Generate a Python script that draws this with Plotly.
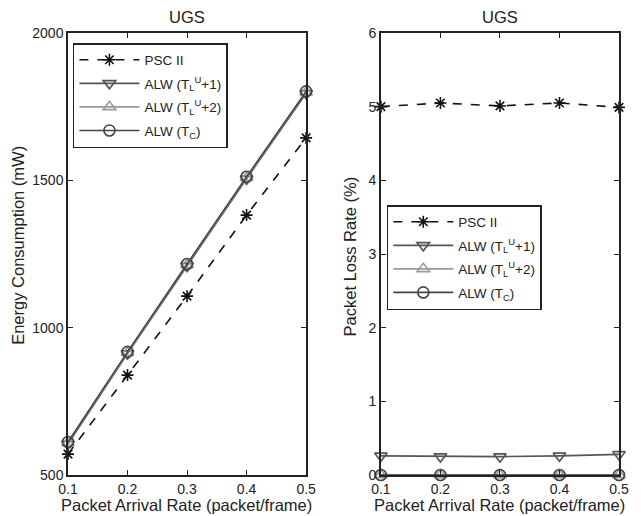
import plotly.graph_objects as go

x_rate = [0.1, 0.2, 0.3, 0.4, 0.5]

energy_psc = [571, 839, 1107, 1382, 1644]
energy_alw1 = [605, 912, 1209, 1505, 1795]
energy_alw2 = [609, 915, 1213, 1509, 1799]
energy_tc = [612, 918, 1216, 1512, 1802]

loss_psc = [5.0, 5.05, 5.01, 5.05, 4.99]
loss_alw1 = [0.26, 0.25, 0.25, 0.26, 0.28]
loss_alw2 = [0.0, 0.0, 0.0, 0.0, 0.0]
loss_tc = [0.0, 0.0, 0.0, 0.0, 0.0]

names = ["PSC II",
         "ALW (T<sub>L</sub><sup>U</sup>+1)",
         "ALW (T<sub>L</sub><sup>U</sup>+2)",
         "ALW (T<sub>C</sub>)"]
colors = ["#111111", "#555555", "#9a9a9a", "#444444"]
symbols = ["asterisk-open", "triangle-down-open", "triangle-up-open", "circle-open"]
dashes = ["dash", "solid", "solid", "solid"]
msizes = [10, 11, 11, 11]

fig = go.Figure()

left = [energy_psc, energy_alw1, energy_alw2, energy_tc]
right = [loss_psc, loss_alw1, loss_alw2, loss_tc]

for i in range(4):
    fig.add_trace(go.Scatter(
        x=x_rate, y=left[i], name=names[i], mode="lines+markers",
        line=dict(color=colors[i], width=1.6, dash=dashes[i]),
        marker=dict(symbol=symbols[i], size=msizes[i], color=colors[i],
                    line=dict(color=colors[i], width=1.6)),
        cliponaxis=False, xaxis="x", yaxis="y", legend="legend",
        legendgroup="L%d" % i))
for i in range(4):
    fig.add_trace(go.Scatter(
        x=x_rate, y=right[i], name=names[i], mode="lines+markers",
        line=dict(color=colors[i], width=1.6, dash=dashes[i]),
        marker=dict(symbol=symbols[i], size=msizes[i], color=colors[i],
                    line=dict(color=colors[i], width=1.6)),
        cliponaxis=False, xaxis="x2", yaxis="y2", legend="legend2",
        legendgroup="R%d" % i))

# page offset of 8px (body margin) compensated in margins
OFF = 8
PL, PR, PT, PB = 68, 628, 33, 475  # plot area in page pixels
W, H = 641 - OFF, 516 - OFF
ML, MT = PL - OFF, PT - OFF
MR = 641 - PR
MB = 516 - PB
pw = PR - PL
ph = PB - PT

def px(v):
    return (v - PL) / pw

def py(v):
    return (PB - v) / ph

axis_common = dict(showline=True, linecolor="#222222", linewidth=1.5, mirror="ticks",
                   ticks="inside", ticklen=5, tickcolor="#222222", showgrid=False,
                   zeroline=False, tickfont=dict(size=14, color="#222222"))

legend_common = dict(xanchor="left", yanchor="top", bordercolor="#222222", borderwidth=1.5,
                     bgcolor="white", font=dict(size=13.5, color="#222222"), itemwidth=60,
                     tracegroupgap=3, traceorder="grouped")

fig.update_layout(
    width=W, height=H,
    margin=dict(l=ML, r=MR, t=MT, b=MB),
    paper_bgcolor="white", plot_bgcolor="white",
    font=dict(family="Liberation Sans, Arial, sans-serif", color="#222222"),
    xaxis=dict(domain=[0, px(310)], range=[0.1, 0.5], tickvals=x_rate,
               ticktext=["0.1", "0.2", "0.3", "0.4", "0.5"], **axis_common),
    yaxis=dict(domain=[0, 1], range=[500, 2000], tickvals=[500, 1000, 1500, 2000], anchor="x",
               **axis_common),
    xaxis2=dict(domain=[px(386), 1], range=[0.1, 0.5], tickvals=x_rate, anchor="y2",
                ticktext=["0.1", "0.2", "0.3", "0.4", "0.5"], **axis_common),
    yaxis2=dict(domain=[0, 1], range=[0, 6], tickvals=[0, 1, 2, 3, 4, 5, 6], anchor="x2",
                **axis_common),
    legend=dict(x=px(73), y=py(43), **legend_common),
    legend2=dict(x=px(392), y=py(205), **legend_common),
    showlegend=True,
)

ann = [
    dict(text="UGS", x=px(189), y=py(17), font=dict(size=16.5)),
    dict(text="UGS", x=px(507), y=py(17), font=dict(size=16.5)),
    dict(text="Packet Arrival Rate (packet/frame)", x=px(188), y=py(505), font=dict(size=16.5)),
    dict(text="Packet Arrival Rate (packet/frame)", x=px(507), y=py(505), font=dict(size=16.5)),
    dict(text="Energy Consumption (mW)", x=px(17), y=py(245), font=dict(size=16.5),
         textangle=-90),
    dict(text="Packet Loss Rate (%)", x=px(355), y=py(256), font=dict(size=16.5),
         textangle=-90),
]
for a in ann:
    a.update(xref="paper", yref="paper", showarrow=False, xanchor="center", yanchor="middle")
fig.update_layout(annotations=ann)

fig.write_html("out.html")
